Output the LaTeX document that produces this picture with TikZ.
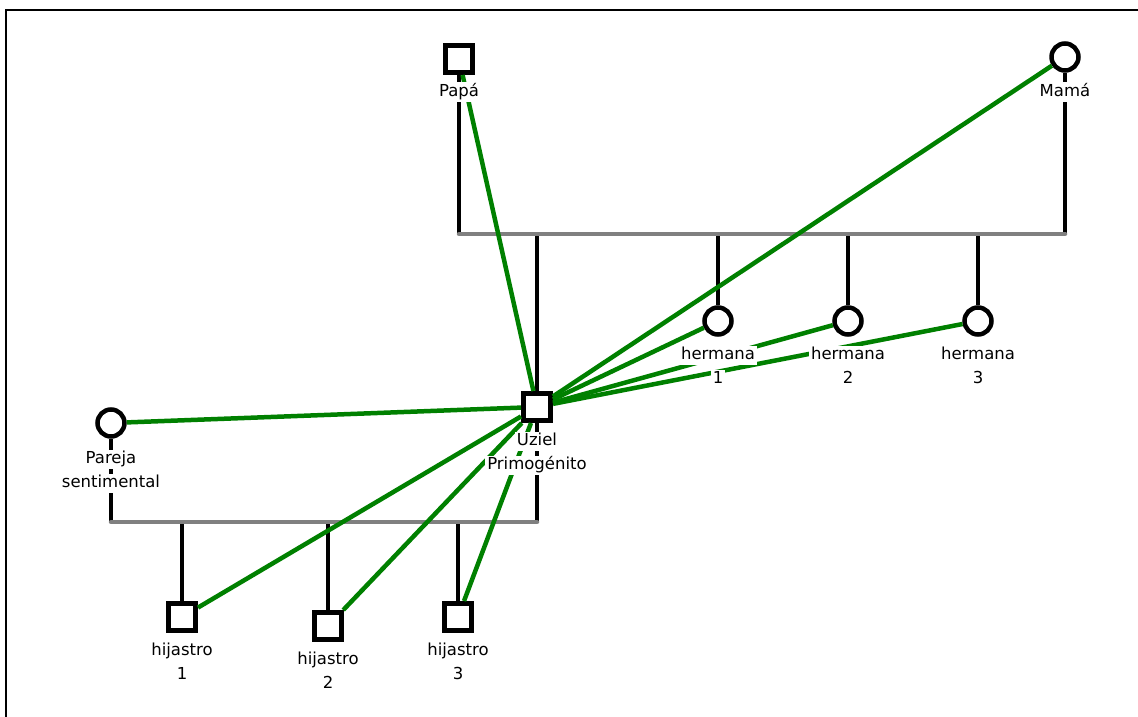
\documentclass[tikz,border=0pt]{standalone}
\usepackage{fontspec}
\setmainfont{DejaVu Sans}

\begin{document}
\begin{tikzpicture}[x=1pt,y=-1pt,node distance=34pt]
\tikzstyle{male} = [rectangle, draw=black, line width=5pt, fill=white, minimum size=27pt, inner sep=0pt]
\tikzstyle{female} = [circle, draw=black, line width=4.5pt, fill=white, minimum size=27pt, inner sep=0pt]
\tikzstyle{tag} = [fill=white, inner sep=2pt, text height=12pt, text depth=3pt, font=\fontsize{16.5}{19}\selectfont]
\tikzstyle{kin} = [line width=4.5pt, draw=black]
\tikzstyle{union} = [line width=4.5pt, draw=gray, line cap=round]
\tikzstyle{bond} = [line width=4.5pt, draw=green!50!black]

\useasboundingbox (0,0) rectangle (1138,717);
\draw [line width=2pt] (6,717) -- (6,10) -- (1138,10);

\node (papa) [male] at (459,59) {};
\node (mama) [female] at (1065,57) {};
\node (uziel) [male] at (537,407) {};
\node (her1) [female] at (718,321) {};
\node (her2) [female] at (848,321) {};
\node (her3) [female] at (978,321) {};
\node (pareja) [female] at (111,423) {};
\node (hij1) [male] at (182,617) {};
\node (hij2) [male] at (328,626) {};
\node (hij3) [male] at (458,617) {};

\coordinate (sibL) at (459,234);
\coordinate (sibR) at (1065,234);
\coordinate (parL) at (111,522);
\coordinate (parR) at (537,522);

% descent lines
\draw [kin] (papa) -- (sibL);
\draw [kin] (mama) -- (sibR);
\draw [kin] (uziel) -- (uziel |- sibL);
\draw [kin] (her1) -- (her1 |- sibL);
\draw [kin] (her2) -- (her2 |- sibL);
\draw [kin] (her3) -- (her3 |- sibL);
\draw [kin] (pareja) -- (parL);
\draw [kin] (uziel) -- (parR);
\draw [kin] (hij1) -- (hij1 |- parL);
\draw [kin] (hij2) -- (hij2 |- parL);
\draw [kin] (hij3) -- (hij3 |- parL);
\draw [union] (sibL) -- (sibR);
\draw [union] (parL) -- (parR);

% emotional ties
\draw [bond] (uziel) -- (papa);
\draw [bond] (uziel) -- (mama);
\draw [bond] (uziel) -- (her1);
\draw [bond] (uziel) -- (her2);
\draw [bond] (uziel) -- (her3);
\draw [bond] (uziel) -- (pareja);
\draw [bond] (uziel) -- (hij1);
\draw [bond] (uziel) -- (hij2);
\draw [bond] (uziel) -- (hij3);

% names
\node (papaname) [tag, below of=papa, node distance=33pt] {Papá};
\node (mamaname) [tag, below of=mama, node distance=35pt] {Mamá};
\node (uzielname) [tag, below of=uziel] {Uziel};
\node (uzielrole) [tag, below of=uzielname, node distance=24pt] {Primogénito};
\node (her1name) [tag, below of=her1] {hermana};
\node (her1num) [tag, below of=her1name, node distance=24pt] {1};
\node (her2name) [tag, below of=her2] {hermana};
\node (her2num) [tag, below of=her2name, node distance=24pt] {2};
\node (her3name) [tag, below of=her3] {hermana};
\node (her3num) [tag, below of=her3name, node distance=24pt] {3};
\node (parejaname) [tag, below of=pareja, node distance=36pt] {Pareja};
\node (parejarole) [tag, below of=parejaname, node distance=24pt] {sentimental};
\node (hij1name) [tag, below of=hij1] {hijastro};
\node (hij1num) [tag, below of=hij1name, node distance=24pt] {1};
\node (hij2name) [tag, below of=hij2] {hijastro};
\node (hij2num) [tag, below of=hij2name, node distance=24pt] {2};
\node (hij3name) [tag, below of=hij3] {hijastro};
\node (hij3num) [tag, below of=hij3name, node distance=24pt] {3};

\end{tikzpicture}
\end{document}
